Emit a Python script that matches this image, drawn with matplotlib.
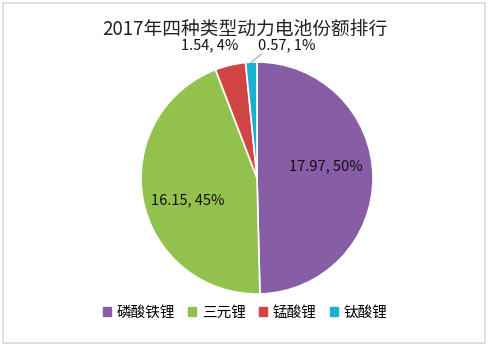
import numpy as np
import matplotlib
matplotlib.use("Agg")
from matplotlib import pyplot as plt
from matplotlib.patches import Rectangle

plt.rcParams['font.family'] = ['Noto Sans CJK SC', 'DejaVu Sans']

# battery types and their 2017 shares
names = ['磷酸铁锂', '三元锂', '锰酸锂', '钛酸锂']
values = [17.97, 16.15, 1.54, 0.57]
percents = ['50%', '45%', '4%', '1%']
colors = ['#875da6', '#92c24d', '#d24444', '#1bb0cc']

fig = plt.figure(figsize=(4.9, 3.49), dpi=100)
fig.patches.append(Rectangle((3 / 490, 6 / 349), 482 / 490, 340 / 349,
                             transform=fig.transFigure, fill=False,
                             edgecolor='#d9d9d9', linewidth=1.2))

fig.text(0.5, 0.915, '2017年四种类型动力电池份额排行', ha='center', va='center',
         fontsize=13.5, color='#222222')

# pie area: center ~ (257, 178) px, radius ~ 116 px
r_px = 116
ax = fig.add_axes([(257 - r_px) / 490, (349 - 178 - r_px) / 349,
                   2 * r_px / 490, 2 * r_px / 349])
wedges, _ = ax.pie(values, colors=colors, startangle=90, counterclock=False,
                   wedgeprops=dict(edgecolor='white', linewidth=1.2))
ax.set_aspect('equal')
ax.set_xlim(-1, 1)
ax.set_ylim(-1, 1)

labels = ['%.2f, %s' % (v, p) for v, p in zip(values, percents)]

# inside labels for the two big slices (radius, angle nudge)
for w, lab, (rr, nudge) in zip(wedges[:2], labels[:2], [(0.6, 9), (0.63, 6.5)]):
    mid = np.deg2rad((w.theta1 + w.theta2) / 2 + nudge)
    ax.text(rr * np.cos(mid), rr * np.sin(mid), lab, ha='center',
            va='center', fontsize=10.5, color='#111111')

# outside labels for the small slices
ax.text(-0.41, 1.14, labels[2], ha='center', va='center', fontsize=10.5,
        color='#111111', clip_on=False)
mid = np.deg2rad((wedges[3].theta1 + wedges[3].theta2) / 2)
ax.plot([np.cos(mid), 0.04], [np.sin(mid), 1.07], color='#a6a6a6',
        lw=0.8, clip_on=False)
ax.text(0.01, 1.14, labels[3], ha='left', va='center', fontsize=10.5,
        color='#111111', clip_on=False)

handles = [Rectangle((0, 0), 1, 1, color=c) for c in colors]
fig.legend(handles, names, loc='center', bbox_to_anchor=(0.5, 0.105),
           ncol=4, frameon=False, fontsize=10.5, handlelength=0.55,
           handleheight=0.55, handletextpad=0.4, columnspacing=0.9)

fig.savefig('out.png', dpi=100)
